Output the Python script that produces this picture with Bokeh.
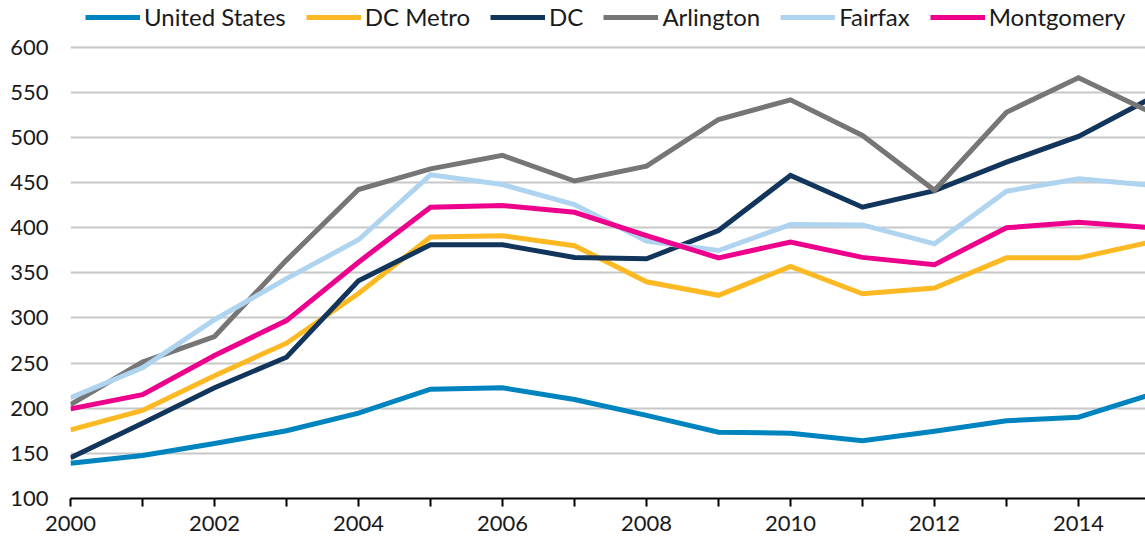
from bokeh.plotting import figure
from bokeh.models import FixedTicker, Legend, LegendItem, Range1d
from bokeh.embed import file_html
from bokeh.resources import INLINE

years = list(range(2000, 2016))
united_states = [139, 147.6, 161, 175, 194.5, 221, 222.6, 209.6, 192, 173.5, 172.3, 164, 174.5, 186, 190, 215]
dc_metro = [176, 197.5, 236, 272, 327, 389.5, 391, 380, 340, 325, 357, 326.7, 333, 366.5, 366.5, 384]
dc = [145, 183.4, 222.6, 256.5, 341, 381, 381, 367, 365.4, 396.8, 457.7, 422.6, 441, 472.5, 501, 543]
arlington = [204, 251, 279.4, 364, 442.2, 465, 480, 451.6, 468, 519.7, 541.5, 502, 441.3, 527.8, 566, 528]
fairfax = [211.5, 244.7, 298, 343.5, 386.5, 458.4, 447.7, 425.6, 385, 374.6, 403.4, 403, 382, 440.3, 454, 447]
montgomery = [199.3, 215, 258.4, 297, 361.7, 422.6, 424.5, 417, 391, 366.5, 384, 367, 359, 399.8, 406, 400]

series_names = ["United States", "DC Metro", "DC", "Arlington", "Fairfax", "Montgomery"]
series_values = [united_states, dc_metro, dc, arlington, fairfax, montgomery]
colors = ["#0084BF", "#FDB924", "#12355B", "#767676", "#AFD4F0", "#EC008C"]

y_ticks = list(range(100, 601, 50))
FONT = "Lato"
TEXT = "#1a1a1a"

W, H = 1145, 542
LEFT, BOTTOM = 70, 44
frame_w = W - LEFT
frame_h = H - BOTTOM
px_per_year = 72.0
px_per_unit = 0.903

p = figure(width=W, height=H, output_backend="svg", toolbar_location=None,
           x_range=Range1d(2000, 2000 + frame_w / px_per_year),
           y_range=Range1d(100, 100 + frame_h / px_per_unit),
           min_border_left=LEFT, min_border_right=0, min_border_top=0, min_border_bottom=BOTTOM)
p.outline_line_color = None
p.background_fill_color = "white"

renderers = []
for name, vals, col in zip(series_names, series_values, colors):
    r = p.line(years, vals, line_color=col, line_width=5, line_join="miter")
    renderers.append((name, r))

# grid
p.xgrid.grid_line_color = None
p.ygrid.ticker = FixedTicker(ticks=y_ticks)
p.ygrid.grid_line_color = "#c8c8c8"
p.ygrid.grid_line_width = 2

# y axis
p.yaxis.ticker = FixedTicker(ticks=y_ticks)
p.yaxis.axis_line_color = None
p.yaxis.major_tick_line_color = None
p.yaxis.major_tick_out = 0
p.yaxis.major_tick_in = 0
p.yaxis.minor_tick_line_color = None
p.yaxis.major_label_standoff = 22
p.yaxis.major_label_text_font = FONT
p.yaxis.major_label_text_font_size = "22px"
p.yaxis.major_label_text_color = TEXT

# x axis
p.xaxis.ticker = FixedTicker(ticks=years)
p.xaxis.major_label_overrides = {y: ("" if y % 2 else str(y)) for y in years}
p.xaxis.axis_line_color = "black"
p.xaxis.axis_line_width = 2
p.xaxis.major_tick_line_color = "black"
p.xaxis.major_tick_line_width = 2
p.xaxis.major_tick_out = 8
p.xaxis.major_tick_in = 0
p.xaxis.minor_tick_line_color = None
p.xaxis.major_label_standoff = 9
p.xaxis.major_label_text_font = FONT
p.xaxis.major_label_text_font_size = "22px"
p.xaxis.major_label_text_color = TEXT

legend = Legend(items=[LegendItem(label=n, renderers=[r]) for n, r in renderers],
                orientation="horizontal", location=(15, frame_h - 31),
                glyph_width=55, glyph_height=24, label_height=24,
                label_standoff=4, spacing=20, padding=0, margin=0,
                label_text_font=FONT, label_text_font_size="24px", label_text_color=TEXT,
                border_line_color=None, background_fill_alpha=0)
p.add_layout(legend, "center")

open("out.html", "w").write(file_html(p, INLINE))
